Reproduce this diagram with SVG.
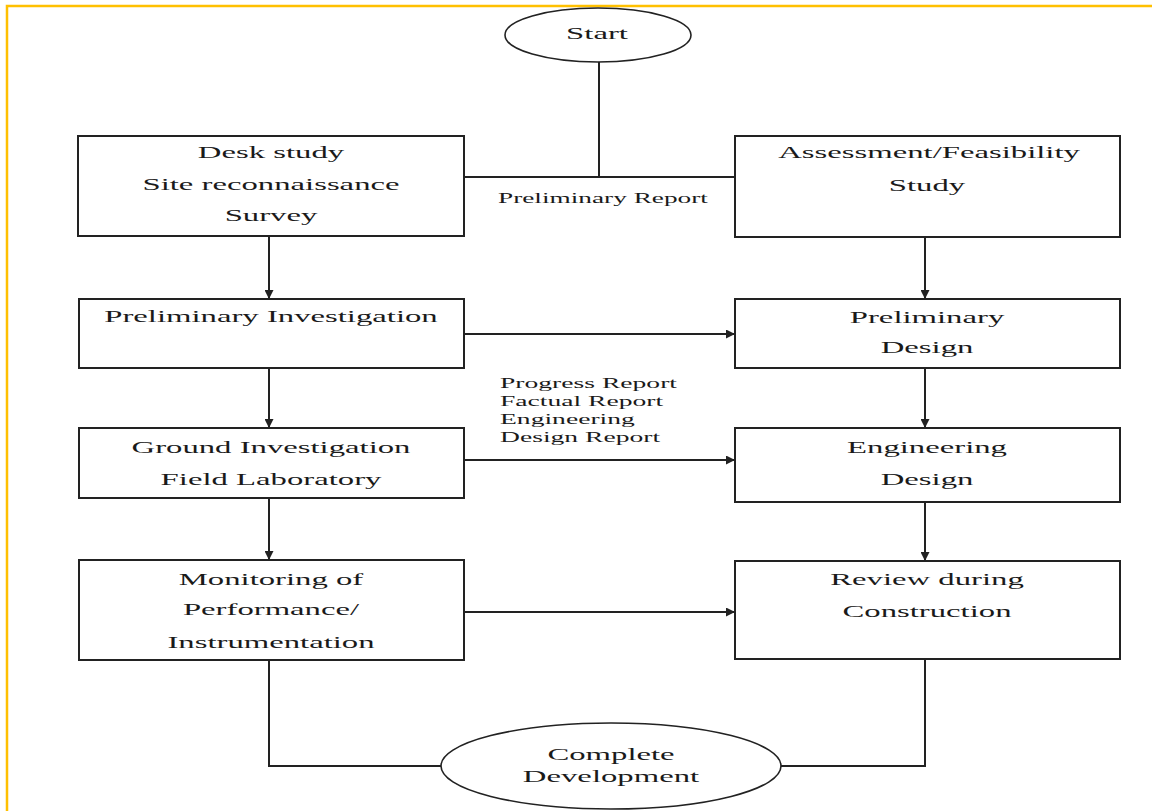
<svg xmlns="http://www.w3.org/2000/svg" width="1152" height="811" viewBox="0 0 1152 811">
<style>
.box{fill:#fff;stroke:#222;stroke-width:2}
.ell{fill:#fff;stroke:#222;stroke-width:1.6}
.ln{fill:none;stroke:#222;stroke-width:2}
.t{font-family:"Liberation Serif","Times New Roman",serif;font-size:17.5px;fill:#1a1a1a;text-anchor:middle}
.s{font-family:"Liberation Serif","Times New Roman",serif;font-size:15px;fill:#1a1a1a;text-anchor:start}
</style>
<defs>
<marker id="ah" viewBox="0 0 10 10" refX="10" refY="5" markerWidth="11" markerHeight="9" markerUnits="userSpaceOnUse" orient="auto">
<path d="M0,0 L10,5 L0,10 z" fill="#222"/>
</marker>
</defs>
<rect width="1152" height="811" fill="#fff"/>
<path d="M7,811 V6 H1152" fill="none" stroke="#FFC000" stroke-width="2.5"/>

<g id="connectors">
<path class="ln" d="M599,62 V177 M464,177 H735"/>
<path class="ln" d="M269,236 V299" marker-end="url(#ah)"/>
<path class="ln" d="M269,368 V428" marker-end="url(#ah)"/>
<path class="ln" d="M269,498 V560" marker-end="url(#ah)"/>
<path class="ln" d="M925,237 V299" marker-end="url(#ah)"/>
<path class="ln" d="M925,368 V428" marker-end="url(#ah)"/>
<path class="ln" d="M925,502 V561" marker-end="url(#ah)"/>
<path class="ln" d="M464,334 H735" marker-end="url(#ah)"/>
<path class="ln" d="M464,460 H735" marker-end="url(#ah)"/>
<path class="ln" d="M464,612 H735" marker-end="url(#ah)"/>
<path class="ln" d="M269,660 V766 H441"/>
<path class="ln" d="M925,659 V766 H781"/>
<text class="s" transform="translate(498,203) scale(1.82,1)">Preliminary Report</text>
<text class="s" transform="translate(500,388) scale(1.84,1)">Progress Report</text>
<text class="s" transform="translate(500,406) scale(1.84,1)">Factual Report</text>
<text class="s" transform="translate(500,424) scale(1.84,1)">Engineering</text>
<text class="s" transform="translate(500,442) scale(1.84,1)">Design Report</text>
</g>

<g id="start">
<ellipse class="ell" cx="598" cy="35" rx="93" ry="27"/>
<text class="t" transform="translate(597,39) scale(1.87,1)">Start</text>
</g>

<g id="desk-study">
<rect class="box" x="78" y="136" width="386" height="100"/>
<text class="t" transform="translate(271,158) scale(1.87,1)">Desk study</text>
<text class="t" transform="translate(271,190) scale(1.87,1)">Site reconnaissance</text>
<text class="t" transform="translate(271,221) scale(1.87,1)">Survey</text>
</g>

<g id="assessment">
<rect class="box" x="735" y="136" width="385" height="101"/>
<text class="t" transform="translate(929,158) scale(1.87,1)">Assessment/Feasibility</text>
<text class="t" transform="translate(927,191) scale(1.87,1)">Study</text>
</g>

<g id="preliminary-investigation">
<rect class="box" x="79" y="299" width="385" height="69"/>
<text class="t" transform="translate(271,322) scale(1.87,1)">Preliminary Investigation</text>
</g>

<g id="preliminary-design">
<rect class="box" x="735" y="299" width="385" height="69"/>
<text class="t" transform="translate(927,323) scale(1.87,1)">Preliminary</text>
<text class="t" transform="translate(927,353) scale(1.87,1)">Design</text>
</g>

<g id="ground-investigation">
<rect class="box" x="79" y="428" width="385" height="70"/>
<text class="t" transform="translate(271,453) scale(1.87,1)">Ground Investigation</text>
<text class="t" transform="translate(271,485) scale(1.87,1)">Field Laboratory</text>
</g>

<g id="engineering-design">
<rect class="box" x="735" y="428" width="385" height="74"/>
<text class="t" transform="translate(927,453) scale(1.87,1)">Engineering</text>
<text class="t" transform="translate(927,485) scale(1.87,1)">Design</text>
</g>

<g id="monitoring">
<rect class="box" x="79" y="560" width="385" height="100"/>
<text class="t" transform="translate(271,585) scale(1.87,1)">Monitoring of</text>
<text class="t" transform="translate(271,615) scale(1.87,1)">Performance/</text>
<text class="t" transform="translate(271,648) scale(1.87,1)">Instrumentation</text>
</g>

<g id="review">
<rect class="box" x="735" y="561" width="385" height="98"/>
<text class="t" transform="translate(927,585) scale(1.87,1)">Review during</text>
<text class="t" transform="translate(927,617) scale(1.87,1)">Construction</text>
</g>

<g id="complete">
<ellipse class="ell" cx="611" cy="766" rx="170" ry="43"/>
<text class="t" transform="translate(611,760) scale(1.87,1)">Complete</text>
<text class="t" transform="translate(611,782) scale(1.87,1)">Development</text>
</g>
</svg>
